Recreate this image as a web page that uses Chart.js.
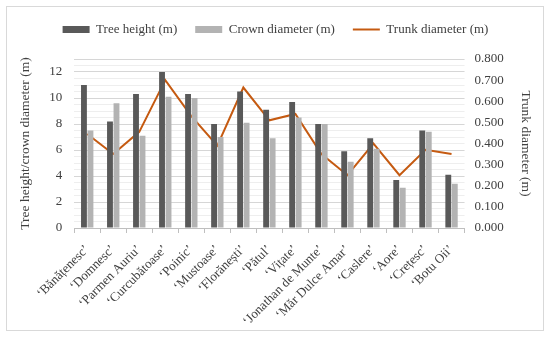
<!DOCTYPE html>
<html>
<head>
<meta charset="utf-8">
<script src="https://cdn.jsdelivr.net/npm/chart.js@4"></script>
<style>
    body { margin: 0; background: #fff; }
    #frame { position: absolute; left: 6px; top: 6px; width: 536px; height: 323px; border: 1px solid #d9d9d9; }
    #wrap { position: absolute; left: 0; top: 0; width: 550px; height: 338px; }
</style>
</head>
<body>
<div id="frame"></div>
<div id="wrap"><canvas id="myChart" width="550" height="338"></canvas></div>
<script>
// cultivars and measurements
const cultivars = ['‘Bănățenesc’', '‘Domnesc’', '‘Parmen Auriu’', '‘Curcubătoase’', '‘Poinic’', '‘Mustoase’',
    '‘Florănești’', '‘Pătul’', '‘Vițate’', '‘Jonathan de Munte’', '‘Măr Dulce Amar’', '‘Caslere’', '‘Aore’',
    '‘Crețesc’', '‘Botu Oii’'];
const treeHeight = [11.0, 8.2, 10.3, 12.0, 10.3, 8.0, 10.5, 9.1, 9.7, 8.0, 5.9, 6.9, 3.7, 7.5, 4.1];
const crownDiameter = [7.5, 9.6, 7.1, 10.1, 10.0, 7.0, 8.1, 6.9, 8.5, 8.0, 5.1, 6.1, 3.1, 7.4, 3.4];
const trunkDiameter = [0.445, 0.35, 0.455, 0.70, 0.53, 0.39, 0.665, 0.51, 0.54, 0.35, 0.25, 0.40, 0.25, 0.37, 0.35];

const serif = "'Liberation Serif', 'DejaVu Serif', serif";

// extra room under the legend
const legendGap = {
    id: 'legendGap',
    beforeInit(chart) {
        const fit = chart.legend.fit;
        chart.legend.fit = function () {
            fit.bind(chart.legend)();
            this.height += 13;
        };
    }
};

document.addEventListener('DOMContentLoaded', function () {
    var ctx = document.getElementById('myChart').getContext('2d');
    var myChart = new Chart(ctx, {
        type: 'bar',
        data: {
            labels: cultivars,
            datasets: [{
                label: 'Tree height (m)',
                data: treeHeight,
                backgroundColor: '#595959',
                yAxisID: 'y',
                pointStyle: 'rect'
            }, {
                label: 'Crown diameter (m)',
                data: crownDiameter,
                backgroundColor: '#b3b3b3',
                yAxisID: 'y',
                pointStyle: 'rect'
            }, {
                type: 'line',
                label: 'Trunk diameter (m)',
                data: trunkDiameter,
                borderColor: '#c55a11',
                backgroundColor: '#c55a11',
                borderWidth: 2,
                pointRadius: 0,
                pointStyle: 'line',
                tension: 0,
                yAxisID: 'y1'
            }]
        },
        plugins: [legendGap],
        options: {
            responsive: false,
            animation: false,
            layout: { padding: { left: 13, right: 12, top: 5, bottom: 3 } },
            datasets: {
                bar: { categoryPercentage: 0.5, barPercentage: 0.9 }
            },
            plugins: {
                legend: {
                    position: 'top',
                    labels: {
                        usePointStyle: true,
                        pointStyleWidth: 27,
                        boxHeight: 7,
                        padding: 18,
                        color: '#404040',
                        font: { family: serif, size: 13 }
                    }
                },
                tooltip: { enabled: false }
            },
            scales: {
                x: {
                    afterFit: function (axis) { axis.height = 107; },
                    grid: { offset: true, drawOnChartArea: false, tickLength: 5, color: '#bfbfbf' },
                    border: { color: '#bfbfbf' },
                    ticks: {
                        minRotation: 45,
                        maxRotation: 45,
                        autoSkip: false,
                        color: '#404040',
                        padding: 9,
                        font: { family: serif, size: 13 }
                    }
                },
                y: {
                    position: 'left',
                    min: 0,
                    max: 13,
                    title: {
                        display: true,
                        text: 'Tree height/crown diameter (m)',
                        color: '#404040',
                        font: { family: serif, size: 13.5 }
                    },
                    border: { display: false },
                    grid: {
                        drawTicks: false,
                        color: function (c) {
                            const v = c.tick.value;
                            return (v % 2 === 0 || v === 13) ? '#d6d6d6' : '#eeeeee';
                        }
                    },
                    ticks: {
                        stepSize: 0.5,
                        autoSkip: false,
                        padding: 12,
                        color: '#404040',
                        font: { family: serif, size: 13 },
                        callback: function (v) { return (v % 2 === 0) ? v : ''; }
                    }
                },
                y1: {
                    position: 'right',
                    min: 0,
                    max: 0.8,
                    title: {
                        display: true,
                        text: 'Trunk diameter (m)',
                        color: '#404040',
                        font: { family: serif, size: 13.5 }
                    },
                    border: { display: false },
                    grid: { drawOnChartArea: false, drawTicks: false },
                    ticks: {
                        stepSize: 0.1,
                        padding: 10,
                        color: '#404040',
                        font: { family: serif, size: 13 },
                        callback: function (v) { return v.toFixed(3); }
                    }
                }
            }
        }
    });
});
</script>
</body>
</html>
